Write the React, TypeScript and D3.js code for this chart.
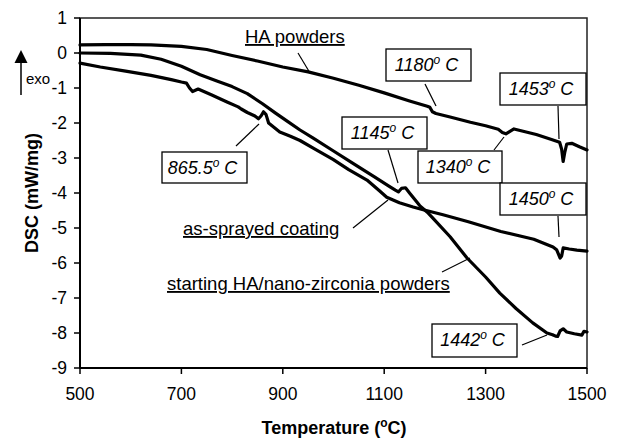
import React from 'react';
import * as d3 from 'd3';

// ---------- data ----------
const xTicks = [500, 700, 900, 1100, 1300, 1500];
const yTicks = [1, 0, -1, -2, -3, -4, -5, -6, -7, -8, -9];

// [temperature °C, DSC mW/mg]
const haPowders: [number, number][] = [
  [500, 0.23], [550, 0.24], [600, 0.24], [640, 0.23], [700, 0.19], [750, 0.1],
  [800, -0.07], [850, -0.23], [900, -0.4], [950, -0.54], [1000, -0.72],
  [1050, -0.92], [1100, -1.14], [1150, -1.37], [1185, -1.52], [1190, -1.55],
  [1195, -1.68], [1202, -1.73], [1230, -1.83], [1270, -1.98], [1300, -2.08],
  [1325, -2.18], [1333, -2.27], [1340, -2.31], [1348, -2.24], [1356, -2.17],
  [1364, -2.2], [1400, -2.33], [1430, -2.47], [1446, -2.55], [1450, -2.75],
  [1453, -3.1], [1456, -2.85], [1460, -2.6], [1470, -2.58], [1485, -2.68],
  [1500, -2.77],
];

const startingPowders: [number, number][] = [
  [500, 0.0], [560, -0.01], [620, -0.06], [660, -0.18], [700, -0.38],
  [737, -0.62], [770, -0.8], [800, -0.96], [830, -1.16], [860, -1.45],
  [885, -1.71], [910, -1.96], [934, -2.2], [960, -2.43], [1000, -2.8],
  [1040, -3.17], [1080, -3.53], [1110, -3.81], [1122, -3.92], [1128, -3.97],
  [1134, -3.87], [1142, -3.85], [1150, -4.0], [1160, -4.18], [1170, -4.36],
  [1185, -4.55], [1196, -4.72], [1230, -5.25], [1263, -5.85], [1300, -6.4],
  [1328, -6.86], [1360, -7.3], [1393, -7.71], [1421, -8.0], [1432, -8.05],
  [1438, -8.09], [1442, -8.1], [1447, -7.94], [1453, -7.88], [1460, -7.97],
  [1475, -8.02], [1490, -8.06], [1494, -7.95], [1500, -7.97],
];

const asSprayed: [number, number][] = [
  [500, -0.29], [540, -0.4], [590, -0.52], [640, -0.64], [680, -0.76],
  [700, -0.83], [710, -0.86], [716, -1.0], [722, -1.1], [733, -1.03],
  [760, -1.2], [790, -1.4], [812, -1.54], [818, -1.6], [830, -1.7],
  [845, -1.8], [852, -1.88], [857, -1.8], [862, -1.68], [867, -1.76],
  [872, -2.0], [894, -2.26], [915, -2.38], [934, -2.5], [960, -2.72],
  [999, -3.04], [1030, -3.33], [1066, -3.63], [1090, -3.93], [1105, -4.12],
  [1130, -4.28], [1157, -4.4], [1175, -4.47], [1216, -4.62], [1266, -4.82],
  [1330, -5.1], [1395, -5.32], [1433, -5.54], [1440, -5.62], [1447, -5.86],
  [1450, -5.8], [1453, -5.57], [1465, -5.6], [1480, -5.63], [1500, -5.66],
];

const seriesNames = ['HA powders', 'as-sprayed coating', 'starting HA/nano-zirconia powders'];
const peakTemps = ['865.5', '1180', '1453', '1145', '1340', '1450', '1442'];

// ---------- layout ----------
const W = 621, H = 439;
const x = d3.scaleLinear().domain([500, 1500]).range([80, 587]);
const y = d3.scaleLinear().domain([-9, 1]).range([368, 18]);
const FONT = '"Liberation Sans", Arial, Helvetica, sans-serif';

const nameLayout = [
  { x: 245, y: 43, line: [298, 53, 310, 73] },
  { x: 183, y: 235, line: [353, 228, 388, 200] },
  { x: 167, y: 290, line: [442, 272, 470, 258] },
];

const peakLayout = [
  { box: [162, 152, 85, 31], line: [236, 146, 259, 124] },
  { box: [386, 49, 85, 32], line: [425, 84, 436, 106] },
  { box: [500, 73, 86, 32], line: [558, 106, 559, 139] },
  { box: [342, 117, 85, 32], line: [388, 150, 398, 183] },
  { box: [418, 151, 84, 32], line: [494, 150, 504, 137] },
  { box: [500, 183, 86, 32], line: [558, 216, 559, 237] },
  { box: [432, 324, 85, 33], line: [522, 345, 547, 335] },
];

const line = d3.line<[number, number]>().x(d => x(d[0])).y(d => y(d[1]));

export default function App() {
  return (
    <svg width={W} height={H} style={{ position: 'absolute', left: 0, top: 0, background: '#fff' }}
      fontFamily={FONT}>
      <rect x={0} y={0} width={W} height={H} fill="#fff" />
      {/* plot frame */}
      <rect x={x(500)} y={y(1)} width={x(1500) - x(500)} height={y(-9) - y(1)}
        fill="none" stroke="#222" strokeWidth={1.5} />
      {/* axes */}
      <line x1={x(500)} x2={x(500)} y1={y(1)} y2={y(-9)} stroke="#000" strokeWidth={2} />
      <line x1={x(500)} x2={x(1500)} y1={y(-9)} y2={y(-9)} stroke="#000" strokeWidth={2} />
      {yTicks.map(t => (
        <g key={'y' + t}>
          <line x1={x(500) - 6} x2={x(500)} y1={y(t)} y2={y(t)} stroke="#000" strokeWidth={1.5} />
          <text x={67} y={y(t)} dy="0.36em" textAnchor="end" fontSize={17.5} fill="#000">{t}</text>
        </g>
      ))}
      {xTicks.map(t => (
        <g key={'x' + t}>
          <line x1={x(t)} x2={x(t)} y1={y(-9)} y2={y(-9) + 6} stroke="#000" strokeWidth={1.5} />
          <text x={x(t)} y={400} textAnchor="middle" fontSize={17.5} fill="#000">{t}</text>
        </g>
      ))}
      {/* axis titles */}
      <text x={334} y={434} textAnchor="middle" fontSize={18} fontWeight="bold">
        Temperature (<tspan fontSize={12} dy={-7}>o</tspan><tspan dy={7}>C)</tspan>
      </text>
      <text transform="translate(38,193) rotate(-90)" textAnchor="middle" fontSize={18} fontWeight="bold">
        DSC (mW/mg)
      </text>
      {/* exo arrow */}
      <line x1={21} x2={21} y1={60} y2={95} stroke="#000" strokeWidth={1.5} />
      <path d="M21,50 L27.5,63 L14.5,63 Z" fill="#000" />
      <text x={26} y={84} fontSize={15} fill="#000">exo</text>

      {/* curves */}
      {[haPowders, asSprayed, startingPowders].map((s, i) => (
        <path key={'c' + i} d={line(s) || ''} fill="none" stroke="#000" strokeWidth={3.2}
          strokeLinejoin="round" strokeLinecap="round" />
      ))}

      {/* series name labels */}
      {seriesNames.map((n, i) => {
        const L = nameLayout[i];
        return (
          <g key={'n' + i}>
            <line x1={L.line[0]} y1={L.line[1]} x2={L.line[2]} y2={L.line[3]} stroke="#000" strokeWidth={1.2} />
            <text x={L.x} y={L.y} fontSize={18.5} textDecoration="underline" fill="#000">{n}</text>
          </g>
        );
      })}

      {/* peak annotations */}
      {peakTemps.map((p, i) => {
        const L = peakLayout[i];
        const [bx, by, bw, bh] = L.box;
        return (
          <g key={'p' + i}>
            <line x1={L.line[0]} y1={L.line[1]} x2={L.line[2]} y2={L.line[3]} stroke="#000" strokeWidth={1.2} />
            <rect x={bx} y={by} width={bw} height={bh} fill="#fff" stroke="#000" strokeWidth={1.3} />
            <text x={bx + bw / 2 - 2} y={by + 22} textAnchor="middle" fontSize={18} fontStyle="italic" fill="#000">
              {p}<tspan fontSize={12} dy={-7}>o</tspan><tspan dy={7}> C</tspan>
            </text>
          </g>
        );
      })}
    </svg>
  );
}
